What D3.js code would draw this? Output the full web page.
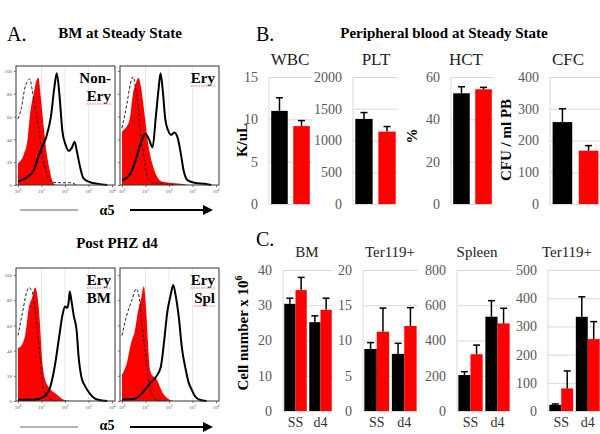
<!DOCTYPE html>
<html><head><meta charset="utf-8">
<script src="https://cdn.jsdelivr.net/npm/d3@7"></script>
<style>body{margin:0;background:#fff}svg{display:block}</style>
</head><body>
<svg id="c" width="600" height="434"></svg>
<script>
// ---------- DATA ----------
// Panel A: flow histograms, points are [log10(alpha5 intensity), % of max]
const histTitles = ["BM at Steady State", "Post PHZ d4"];
const histLabels = [["Non-", "Ery"], ["Ery"], ["Ery", "BM"], ["Ery", "Spl"]];
const histXTicks = [0, 1, 2, 3, 4];
const histYTicks = [0, 20, 40, 60, 80, 100];

const nonEryRed = [[0,19],[0.25,27],[0.4,39],[0.49,58],[0.6,74],[0.67,80],[0.75,89],[0.87,94],[0.97,77],[1.08,54],[1.2,31],[1.35,13],[1.47,3],[1.6,0]];
const nonEryIso = [[0,58],[0.15,68],[0.28,84],[0.4,91],[0.5,93],[0.6,84],[0.67,75],[0.86,52],[1.04,26],[1.22,10],[1.4,3],[1.7,2],[2.2,2],[2.5,0]];
const nonEryA5  = [[0,3],[0.39,7],[0.67,13],[0.87,25],[1.0,32],[1.2,42],[1.4,60],[1.55,86],[1.65,98],[1.76,80],[1.89,47],[2.03,35],[2.16,30],[2.3,33],[2.41,38],[2.5,30],[2.64,16],[2.78,6],[3.0,3],[3.4,1],[3.8,0]];

const eryRed = [[0,47],[0.15,50],[0.33,58],[0.46,79],[0.6,90],[0.7,94],[0.8,87],[0.96,62],[1.1,38],[1.3,18],[1.5,7],[1.7,3],[2.0,2],[2.5,1],[2.8,0]];
const eryIso = [[0,50],[0.2,70],[0.35,88],[0.47,95],[0.58,85],[0.68,70],[0.82,41],[0.96,20],[1.1,6],[1.3,2],[1.8,1],[2.2,0]];
const eryA5  = [[0,4],[0.33,9],[0.6,23],[0.82,38],[1.0,45],[1.15,40],[1.3,33],[1.44,60],[1.56,85],[1.64,98],[1.73,84],[1.84,58],[1.96,48],[2.1,44],[2.22,46],[2.36,42],[2.5,28],[2.62,13],[2.8,4],[3.1,2],[3.5,1],[3.8,0]];

const bmRed = [[0,42],[0.15,44],[0.33,55],[0.46,74],[0.6,82],[0.73,90],[0.85,80],[0.94,60],[1.01,37],[1.14,18],[1.35,10],[1.6,6],[1.95,1],[2.2,0]];
const bmIso = [[0,52],[0.2,71],[0.35,85],[0.46,90],[0.6,87],[0.8,60],[0.94,34],[1.07,10],[1.28,3],[1.6,0]];
const bmA5  = [[0,1],[0.7,1],[1.07,3],[1.35,10],[1.55,26],[1.76,52],[1.89,68],[2.0,75],[2.1,74],[2.16,79],[2.2,87],[2.27,80],[2.37,68],[2.5,55],[2.57,37],[2.71,18],[2.85,12],[3.05,6],[3.2,3],[3.4,1],[3.8,0]];

const splRed = [[0,21],[0.19,29],[0.4,47],[0.54,55],[0.68,71],[0.82,82],[0.93,91],[1.03,72],[1.1,48],[1.18,26],[1.3,20],[1.45,18],[1.6,12],[1.75,6],[1.95,2],[2.2,0]];
const splIso = [[0,52],[0.2,68],[0.4,79],[0.61,89],[0.75,80],[0.86,60],[1.0,37],[1.14,15],[1.3,4],[1.5,1],[1.8,0]];
const splA5  = [[0,1],[0.56,2],[0.89,7],[1.24,15],[1.44,19],[1.65,27],[1.79,47],[1.93,71],[2.07,84],[2.18,92],[2.28,84],[2.42,66],[2.55,42],[2.7,26],[2.83,15],[2.94,10],[3.1,4],[3.3,1],[3.6,0]];

// Panel B: peripheral blood
const bTitle = "Peripheral blood at Steady State";
const bCategories = ["WBC", "PLT", "HCT", "CFC"];
const bYLabels = ["K/uL", "", "%", "CFU / ml PB"];
const bBlack = [11.0, 1340, 52.3, 258];
const bBlackErr = [1.55, 100, 3.1, 42];
const bRed = [9.2, 1140, 54.2, 168];
const bRedErr = [0.65, 80, 0.9, 16];
const bMax = [15, 2000, 60, 400];
const bTicks = [[0,5,10,15],[0,500,1000,1500,2000],[0,20,40,60],[0,100,200,300,400]];

// Panel C: cell numbers
const cCategories = ["BM", "Ter119+", "Spleen", "Ter119+"];
const cGroups = ["SS", "d4"];
const cBlack = [[30.4, 25.2], [8.8, 8.1], [204, 535], [22, 334]];
const cBlackErr = [[1.6, 1.8], [0.9, 1.5], [19, 91], [3, 71]];
const cRed = [[34.3, 28.7], [11.25, 12.06], [322, 497], [80, 255]];
const cRedErr = [[3.6, 3.3], [3.35, 2.6], [52, 86], [62, 62]];
const cMax = [40, 20, 800, 500];
const cTicks = [[0,10,20,30,40],[0,5,10,15,20],[0,200,400,600,800],[0,100,200,300,400,500]];

// ---------- DRAW ----------
const svg = d3.select("#c");
const serif = "'Liberation Serif','Times New Roman',Times,serif";
const RED = "#ff0000";
const fmt = d3.format("d");

function txt(x, y, s, size, opts = {}) {
  return svg.append("text").attr("x", x).attr("y", y).text(s)
    .attr("font-family", serif).attr("font-size", size)
    .attr("font-weight", opts.bold ? "bold" : "normal")
    .attr("fill", opts.fill || "#000")
    .attr("text-anchor", opts.anchor || "start");
}

// Panel letters and titles
txt(7, 41, "A.", 20);
txt(120, 38, histTitles[0], 15, {bold: true, anchor: "middle"});
txt(117, 248, histTitles[1], 15, {bold: true, anchor: "middle"});
txt(256, 41, "B.", 20);
txt(444, 38, bTitle, 15, {bold: true, anchor: "middle"});
txt(256, 246, "C.", 20);

// Histograms
function hist(x0, yTop, yBot, y100, red, iso, a5, labels, yLabels) {
  const w = 99;
  const g = svg.append("g");
  const xs = d3.scaleLinear().domain([0, 4]).range([x0 + 2, x0 + w - 3]);
  const ys = d3.scaleLinear().domain([0, 100]).range([yBot, y100]);
  g.selectAll(".vg").data([1, 2, 3]).join("line")
    .attr("x1", d => xs(d)).attr("x2", d => xs(d))
    .attr("y1", yTop).attr("y2", yBot).attr("stroke", "#e2e2e2").attr("stroke-width", 0.8);
  g.append("path").datum(red)
    .attr("d", d3.area().x(d => xs(d[0])).y0(ys(0)).y1(d => ys(d[1])).curve(d3.curveMonotoneX))
    .attr("fill", RED);
  g.append("path").datum(iso)
    .attr("d", d3.line().x(d => xs(d[0])).y(d => ys(d[1])).curve(d3.curveMonotoneX))
    .attr("fill", "none").attr("stroke", "#222").attr("stroke-width", 1).attr("stroke-dasharray", "3,2");
  g.append("path").datum(a5)
    .attr("d", d3.line().x(d => xs(d[0])).y(d => ys(d[1])).curve(d3.curveMonotoneX))
    .attr("fill", "none").attr("stroke", "#000").attr("stroke-width", 2);
  g.append("rect").attr("x", x0).attr("y", yTop).attr("width", w).attr("height", yBot - yTop)
    .attr("fill", "none").attr("stroke", "#333").attr("stroke-width", 1);
  const xa = g.append("g").attr("transform", `translate(0,${yBot})`)
    .call(d3.axisBottom(xs).tickValues(histXTicks).tickSize(2).tickFormat(""));
  xa.select(".domain").remove();
  xa.selectAll("line").attr("stroke", "#666");
  histXTicks.forEach(t => {
    const tt = g.append("text").attr("x", xs(t)).attr("y", yBot + 8).attr("font-size", 5)
      .attr("font-family", serif).attr("fill", "#555").attr("text-anchor", "middle");
    tt.append("tspan").text("10");
    tt.append("tspan").attr("dy", -2).attr("font-size", 3.5).text(t);
  });
  const ya = g.append("g").attr("transform", `translate(${x0},0)`)
    .call(d3.axisLeft(ys).tickValues(histYTicks).tickSize(2).tickPadding(2).tickFormat(yLabels ? fmt : ""));
  ya.select(".domain").remove();
  ya.selectAll("line").attr("stroke", "#d04040");
  ya.selectAll("text").attr("font-size", 5).attr("font-family", serif).attr("fill", "#555");
  labels.forEach((s, i) => {
    const ly = yTop + 17 + i * 18;
    const t = g.append("text").attr("x", x0 + w - 4).attr("y", ly).attr("text-anchor", "end")
      .attr("font-family", serif).attr("font-weight", "bold").attr("font-size", 15).text(s);
    if (s === "Ery" || s === "Spl") {
      const lw = t.node().getComputedTextLength();
      g.append("line").attr("x1", x0 + w - 4 - lw).attr("x2", x0 + w - 4)
        .attr("y1", ly + 3).attr("y2", ly + 3)
        .attr("stroke", "#e05050").attr("stroke-width", 0.8).attr("stroke-dasharray", "1.5,1");
    }
  });
}

hist(16, 66, 185, 71, nonEryRed, nonEryIso, nonEryA5, histLabels[0], true);
hist(120, 66, 185, 71, eryRed, eryIso, eryA5, histLabels[1], false);
hist(16, 268, 401, 275, bmRed, bmIso, bmA5, histLabels[2], true);
hist(120, 268, 401, 275, splRed, splIso, splA5, histLabels[3], false);

// alpha5 axis captions
[[210, 215], [427, 430]].forEach(([y, ty]) => {
  svg.append("line").attr("x1", 20).attr("x2", 78).attr("y1", y).attr("y2", y)
    .attr("stroke", "#999").attr("stroke-width", 1.5);
  txt(107, ty, "α5", 14, {bold: true, anchor: "middle"});
  svg.append("line").attr("x1", 130).attr("x2", 203).attr("y1", y).attr("y2", y)
    .attr("stroke", "#000").attr("stroke-width", 2);
  svg.append("path").attr("d", `M203,${y - 5} L213,${y} L203,${y + 5} Z`).attr("fill", "#000");
});

// Panel B
const bPx = [[269, 312], [353, 398], [451, 494], [550, 601]];
const bTitleX = [290, 376, 466, 568];
const bYLabelX = [242, null, 412, 506];
bCategories.forEach((cat, i) => {
  const [xl, xr] = bPx[i];
  const x = d3.scaleBand().domain(["black", "red"]).range([xl, xr]).paddingInner(0.25).paddingOuter(0.1);
  const y = d3.scaleLinear().domain([0, bMax[i]]).range([204, 77]);
  const g = svg.append("g");
  const ax = g.append("g").attr("transform", `translate(${xl},0)`)
    .call(d3.axisLeft(y).tickValues(bTicks[i]).tickFormat(fmt).tickSize(-(xr - xl)).tickPadding(11));
  ax.select(".domain").remove();
  ax.selectAll("line").attr("stroke", "#d9d9d9");
  ax.selectAll("text").attr("font-size", 14).attr("font-family", serif).attr("fill", "#595959");
  g.append("line").attr("x1", xl).attr("x2", xl).attr("y1", y(0)).attr("y2", y(bMax[i])).attr("stroke", "#d9d9d9");
  const bars = [{k: "black", v: bBlack[i], e: bBlackErr[i], c: "#000"}, {k: "red", v: bRed[i], e: bRedErr[i], c: RED}];
  g.selectAll(".bar").data(bars).join("rect")
    .attr("x", d => x(d.k)).attr("width", x.bandwidth())
    .attr("y", d => y(d.v)).attr("height", d => y(0) - y(d.v)).attr("fill", d => d.c);
  bars.forEach(d => {
    const cx = x(d.k) + x.bandwidth() / 2;
    g.append("line").attr("x1", cx).attr("x2", cx).attr("y1", y(d.v)).attr("y2", y(d.v + d.e)).attr("stroke", "#000").attr("stroke-width", 1.5);
    g.append("line").attr("x1", cx - 3.5).attr("x2", cx + 3.5).attr("y1", y(d.v + d.e)).attr("y2", y(d.v + d.e)).attr("stroke", "#000").attr("stroke-width", 1.5);
  });
  txt(bTitleX[i], 65, cat, 17, {anchor: "middle", fill: "#222"});
  if (bYLabels[i]) {
    svg.append("text").attr("transform", `translate(${bYLabelX[i]},${i === 2 ? 136 : 140}) rotate(-90)`)
      .attr("text-anchor", "middle").attr("dy", "0.35em").attr("font-family", serif)
      .attr("font-weight", "bold").attr("font-size", 15).text(bYLabels[i]);
  }
});

// Panel C
const cPx = [[283, 333], [363, 418], [457, 511], [548, 601]];
const cTitleX = [307, 390, 477, 567];
cCategories.forEach((cat, i) => {
  const [xl, xr] = cPx[i];
  const x0 = d3.scaleBand().domain(cGroups).range([xl, xr]).paddingInner(0.1).paddingOuter(0.05);
  const x1 = d3.scaleBand().domain(["black", "red"]).range([0, x0.bandwidth()]);
  const y = d3.scaleLinear().domain([0, cMax[i]]).range([411, 270]);
  const g = svg.append("g");
  const ax = g.append("g").attr("transform", `translate(${xl},0)`)
    .call(d3.axisLeft(y).tickValues(cTicks[i]).tickFormat(fmt).tickSize(-(xr - xl)).tickPadding(11));
  ax.select(".domain").remove();
  ax.selectAll("line").attr("stroke", "#d9d9d9");
  ax.selectAll("text").attr("font-size", 14).attr("font-family", serif).attr("fill", "#595959");
  g.append("line").attr("x1", xl).attr("x2", xl).attr("y1", y(0)).attr("y2", y(cMax[i])).attr("stroke", "#d9d9d9");
  cGroups.forEach((grp, j) => {
    const bars = [{k: "black", v: cBlack[i][j], e: cBlackErr[i][j], c: "#000"}, {k: "red", v: cRed[i][j], e: cRedErr[i][j], c: RED}];
    g.selectAll(".bar" + j).data(bars).join("rect")
      .attr("x", d => x0(grp) + x1(d.k)).attr("width", x1.bandwidth())
      .attr("y", d => y(d.v)).attr("height", d => y(0) - y(d.v)).attr("fill", d => d.c);
    bars.forEach(d => {
      const cx = x0(grp) + x1(d.k) + x1.bandwidth() / 2;
      g.append("line").attr("x1", cx).attr("x2", cx).attr("y1", y(d.v)).attr("y2", y(d.v + d.e)).attr("stroke", "#000").attr("stroke-width", 1.5);
      g.append("line").attr("x1", cx - 3.5).attr("x2", cx + 3.5).attr("y1", y(d.v + d.e)).attr("y2", y(d.v + d.e)).attr("stroke", "#000").attr("stroke-width", 1.5);
    });
    txt(x0(grp) + x0.bandwidth() / 2, 427, grp, 14, {anchor: "middle", fill: "#333"});
  });
  txt(cTitleX[i], 257, cat, 15, {anchor: "middle", fill: "#222"});
});
const cl = svg.append("text").attr("transform", "translate(243,333) rotate(-90)")
  .attr("text-anchor", "middle").attr("dy", "0.35em").attr("font-family", serif)
  .attr("font-weight", "bold").attr("font-size", 15);
cl.append("tspan").text("Cell number x 10");
cl.append("tspan").attr("dy", -6).attr("font-size", 10).text("6");
</script>
</body></html>
